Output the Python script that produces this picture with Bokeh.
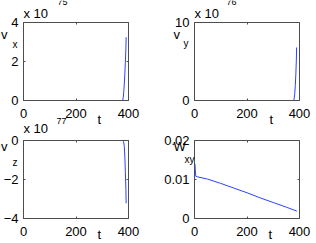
from bokeh.plotting import figure
from bokeh.models import Range1d, LinearAxis, FixedTicker, Label
from bokeh.layouts import column, row
from bokeh.embed import file_html
from bokeh.resources import INLINE

# ---------------- data ----------------
t_vx = [0, 100, 200, 300, 370, 378, 380, 382, 384, 386, 388, 390, 391]
v_x = [0, 0, 0, 0, 0, 0, 0.15, 0.45, 0.85, 1.35, 1.95, 2.65, 3.25]      # x 1e75

t_vy = [0, 100, 200, 300, 370, 378, 380, 382, 384, 386, 388, 389]
v_y = [0, 0, 0, 0, 0, 0, 0.3, 0.9, 1.9, 3.3, 5.2, 6.8]                   # x 1e76

t_vz = [0, 100, 200, 300, 370, 378, 381, 384, 386, 388, 390, 391]
v_z = [0, 0, 0, 0, 0, 0, -0.05, -0.3, -0.8, -1.6, -2.5, -3.22]          # x 1e77

t_w = [0, 1, 3, 5, 10, 50, 100, 150, 200, 250, 300, 350, 390]
w_xy = [0.0112, 0.0140, 0.0125, 0.0108, 0.0107, 0.0101, 0.0090, 0.0078,
        0.0066, 0.0053, 0.0041, 0.0029, 0.0019]

x_lim = (0, 400)
x_ticks = [0, 200, 400]
vx_lim, vx_ticks = (0, 4), [0, 2, 4]
vy_lim, vy_ticks = (0, 10), [0, 10]
vz_lim, vz_ticks = (-4, 0), [-4, -2, 0]
w_lim, w_ticks = (0, 0.02), [0, 0.01, 0.02]
w_tick_labels = {0: "0", 0.01: "0.01", 0.02: "0.02"}

FONT = "Liberation Sans"
BOX = "#4d4d4d"
LINE = "#2a44ff"
FW, FH = 105, 78          # pixel size of each axes box


def make_fig(w, h, bx, by, yr, yticks, overrides=None):
    """Figure whose frame fills the canvas; the axes box sits at (bx, by)."""
    xspan = x_lim[1] - x_lim[0]
    yspan = yr[1] - yr[0]
    xr = Range1d(x_lim[0] - bx / FW * xspan, x_lim[1] + (w - bx - FW) / FW * xspan)
    yrng = Range1d(yr[0] - (h - by - FH) / FH * yspan, yr[1] + by / FH * yspan)
    p = figure(width=w, height=h, x_range=xr, y_range=yrng,
               output_backend="svg", toolbar_location=None, min_border=0,
               min_border_left=0, min_border_right=0,
               min_border_top=0, min_border_bottom=0,
               x_axis_location=None, y_axis_location=None)
    p.grid.visible = False
    p.outline_line_color = None
    p.background_fill_color = "white"
    p.border_fill_color = "white"

    def axis(loc, ticks, fixed, bounds, standoff, labels=True, ov=None):
        ax = LinearAxis(ticker=FixedTicker(ticks=ticks), fixed_location=fixed,
                        bounds=bounds)
        ax.axis_line_color = BOX
        ax.axis_line_width = 1
        ax.major_tick_line_color = BOX
        ax.major_tick_in = 2
        ax.major_tick_out = 0
        ax.minor_tick_line_color = None
        ax.major_label_text_font = FONT
        ax.major_label_text_color = "black"
        ax.major_label_text_font_size = "13px"
        ax.major_label_standoff = standoff
        if not labels:
            ax.major_label_text_alpha = 0
            ax.major_label_overrides = {t: "" for t in ticks}
        elif ov:
            ax.major_label_overrides = ov
        p.add_layout(ax, loc)

    axis("below", x_ticks, yr[0], x_lim, 8)
    axis("left", yticks, x_lim[0], yr, 5, ov=overrides)
    axis("above", x_ticks, yr[1], x_lim, 0, labels=False)
    axis("right", yticks, x_lim[1], yr, 0, labels=False)
    return p


def lab(p, yr, dx, dy, text, size):
    # dx, dy: pixel offsets of the text's left/baseline from the box's top-left
    px = float(size.replace("px", ""))
    dy = dy - 0.32 * px          # compensate the line box below the baseline
    x = x_lim[0] + dx / FW * (x_lim[1] - x_lim[0])
    y = yr[1] - dy / FH * (yr[1] - yr[0])
    p.add_layout(Label(x=x, y=y, text=text, text_font=FONT,
                       text_font_size=size, text_color="black",
                       text_align="left", text_baseline="alphabetic"))


TOP_H, BOT_H = 135, 108

# panel 1  (box at 23,22 on the page)
p1 = make_fig(160, TOP_H, 23, 22, vx_lim, vx_ticks)
p1.line(t_vx, v_x, line_color=LINE, line_width=1)
lab(p1, vx_lim, 0, -5, "x 10", "13px")
lab(p1, vx_lim, 34, -18, "75", "9px")
lab(p1, vx_lim, -22.5, 16, "v", "13px")
lab(p1, vx_lim, -11, 25, "x", "10px")
lab(p1, vx_lim, 74, 101, "t", "13px")
# exponent note of the panel below (drawn here so it is not cut at the row edge)
lab(p1, vx_lim, 0, 110, "x 10", "13px")
lab(p1, vx_lim, 33, 101, "77", "9px")

# panel 2  (box at 194,22)
p2 = make_fig(156, TOP_H, 34, 22, vy_lim, vy_ticks)
p2.line(t_vy, v_y, line_color=LINE, line_width=1)
lab(p2, vy_lim, 0, -5, "x 10", "13px")
lab(p2, vy_lim, 32, -18, "76", "9px")
lab(p2, vy_lim, -21, 16, "v", "13px")
lab(p2, vy_lim, -11, 24, "y", "10px")
lab(p2, vy_lim, 75, 101, "t", "13px")

# panel 3  (box at 23,140)
p3 = make_fig(160, BOT_H, 23, 140 - TOP_H, vz_lim, vz_ticks)
p3.line(t_vz, v_z, line_color=LINE, line_width=1)
lab(p3, vz_lim, -22.5, 10, "v", "13px")
lab(p3, vz_lim, -11, 25, "z", "10px")
lab(p3, vz_lim, 74, 98, "t", "13px")

# panel 4  (box at 194,140)
p4 = make_fig(156, BOT_H, 34, 140 - TOP_H, w_lim, w_ticks, overrides=w_tick_labels)
p4.line(t_w, w_xy, line_color=LINE, line_width=1)
lab(p4, w_lim, -21, 10, "W", "13px")
lab(p4, w_lim, -10, 22, "xy", "10px")
lab(p4, w_lim, 74, 98, "t", "13px")

layout = column(row(p1, p2), row(p3, p4))

open("out.html", "w").write(file_html(layout, INLINE))
